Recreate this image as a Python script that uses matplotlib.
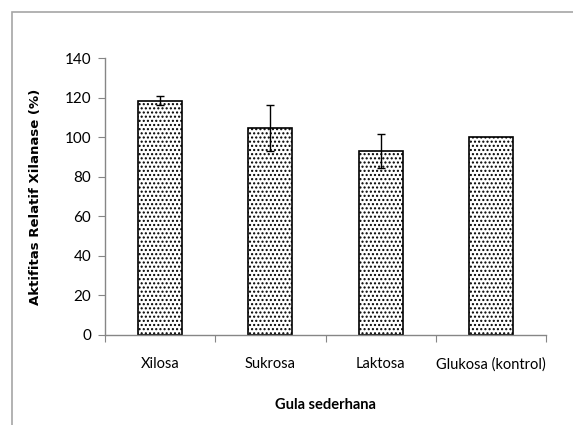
import matplotlib.pyplot as plt
from matplotlib.patches import Rectangle

# data
gula = ["Xilosa", "Sukrosa", "Laktosa", "Glukosa (kontrol)"]
aktifitas = [118.5, 104.5, 93, 100]
galat = [2.2, 11.5, 8.5, 0]

plt.rcParams['hatch.linewidth'] = 1.0
tick_font = ['Lato', 'DejaVu Sans']

fig = plt.figure(figsize=(5.73, 4.25), dpi=100)
ax = fig.add_axes([105/573, 90/425, 441/573, 277/425])

x = list(range(len(gula)))
ax.bar(x, aktifitas, width=0.4, color='white', edgecolor='black',
       linewidth=1.2, hatch='....')
for xi, v, e in zip(x, aktifitas, galat):
    if e > 0:
        ax.errorbar(xi, v, yerr=e, fmt='none', ecolor='black',
                    elinewidth=1, capsize=3, capthick=1)

ax.set_xlim(-0.5, len(gula) - 0.5)
ax.set_ylim(0, 140)
ax.set_yticks(range(0, 141, 20))
ax.set_xticks([i - 0.5 for i in range(len(gula) + 1)])
ax.set_xticklabels([])
ax.set_xticks(x, minor=True)
ax.set_xticklabels(gula, minor=True, fontsize=10.5, family=tick_font)
ax.tick_params(axis='x', which='minor', length=0, pad=16)
ax.tick_params(axis='x', which='major', length=5, color='#868686', direction='out')
ax.tick_params(axis='y', length=5, color='#868686', labelsize=11, pad=5)
for lbl in ax.get_yticklabels():
    lbl.set_family(tick_font)

for s in ['top', 'right']:
    ax.spines[s].set_visible(False)
for s in ['left', 'bottom']:
    ax.spines[s].set_color('#868686')
    ax.spines[s].set_linewidth(1)

ax.set_ylabel("Aktifitas Relatif Xilanase (%)", fontsize=9.5,
              fontweight='bold', family='DejaVu Sans', labelpad=16)
ax.set_xlabel("Gula sederhana", fontsize=10.5, fontweight='bold',
              family=tick_font, labelpad=19)

# chart-area border (cut at right and bottom)
fig.patches.append(Rectangle((12/573, -0.1), 1.2, (425 - 12)/425 + 0.1,
                             transform=fig.transFigure, fill=False,
                             edgecolor='#a6a6a6', linewidth=1.2))

fig.savefig("out.png", dpi=100)
